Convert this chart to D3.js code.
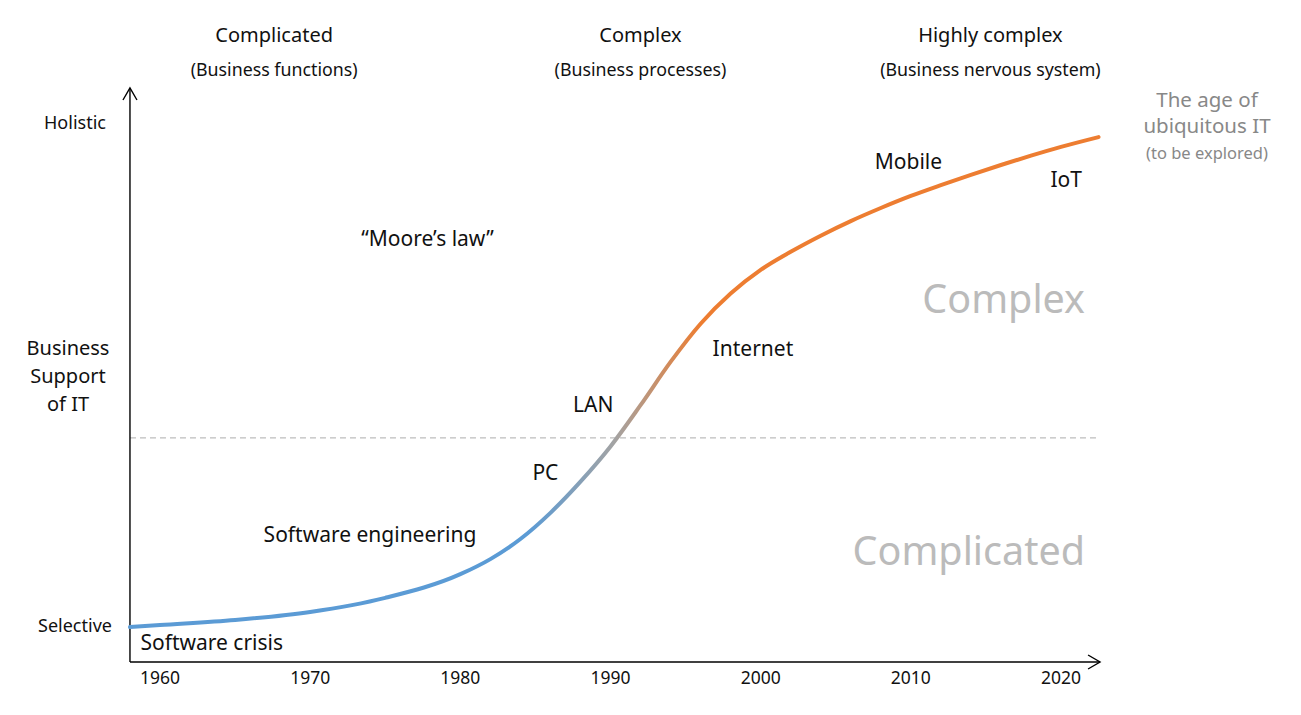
<!DOCTYPE html>
<html><head><meta charset="utf-8">
<script src="https://cdn.jsdelivr.net/npm/d3@7"></script>
<style>
html,body{margin:0;padding:0;background:#fff;}
svg text{font-family:"Noto Sans","DejaVu Sans",sans-serif;}
</style></head>
<body><svg id="c" width="1301" height="715"></svg>
<script>
// ---- data ----
const years  = [1958,1960,1965,1970,1975,1980,1982,1984,1986,1988,1990,1992,1994,1996,1998,2000,2002,2004,2006,2008,2010,2012,2014,2016,2018,2020,2022.5];
const values = [-0.2,0.2,1.2,2.8,5.6,10.3,13.3,17.3,22.5,28.7,35.7,43.9,52.5,60.1,66.1,70.8,74.4,77.6,80.5,83.1,85.5,87.65,89.7,91.65,93.5,95.25,97.2];
const tickYears = [1960,1970,1980,1990,2000,2010,2020];
const yTickLabels = ["Selective","Holistic"];
const yTickValues = [0,100];
const thresholdValue = 37.4;
const eraTitles = ["Complicated","Complex","Highly complex"];
const eraSubtitles = ["(Business functions)","(Business processes)","(Business nervous system)"];
const eraYears = [1967.6,1992,2015.3];
const milestoneLabels = ["Software crisis","Software engineering","PC","LAN","Internet","Mobile","IoT","\u201cMoore\u2019s law\u201d"];
const milestoneYears  = [1958.7,1966.9,1984.8,1987.5,1996.8,2007.6,2019.3,1973.4];
const milestoneValues = [-3.4,18,30.4,43.9,55,92.3,88.7,77];

// ---- scales ----
const x = d3.scaleLinear().domain([1960,2020]).range([160,1061]);
const y = d3.scaleLinear().domain([0,100]).range([626,123]);
const svg = d3.select("#c");
const x0 = x(1958), x1 = x(2022.6), yBase = 662, yTop = 88;

// gradient
const defs = svg.append("defs");
const g = defs.append("linearGradient").attr("id","grad").attr("gradientUnits","userSpaceOnUse")
  .attr("x1",x(1984.5)).attr("x2",x(1996)).attr("y1",0).attr("y2",0);
g.append("stop").attr("offset","0%").attr("stop-color","#5b9bd5");
g.append("stop").attr("offset","50%").attr("stop-color","#a3a3a3");
g.append("stop").attr("offset","100%").attr("stop-color","#ed7d31");

// threshold dashed line
svg.append("line").attr("x1",x0).attr("x2",x1).attr("y1",y(thresholdValue)).attr("y2",y(thresholdValue))
  .attr("stroke","#bdbdbd").attr("stroke-width",1.2).attr("stroke-dasharray","6,4");

// axes
const ax = svg.append("g").attr("stroke","#000").attr("stroke-width",1.4).attr("fill","none");
ax.append("line").attr("x1",x0).attr("x2",x0).attr("y1",yBase).attr("y2",yTop);
ax.append("path").attr("d",`M${x0-7},${yTop+12}L${x0},${yTop}L${x0+7},${yTop+12}`);
ax.append("line").attr("x1",x0).attr("x2",x1).attr("y1",yBase).attr("y2",yBase);
ax.append("path").attr("d",`M${x1-12},${yBase-7}L${x1},${yBase}L${x1-12},${yBase+7}`);

// x tick labels
svg.append("g").selectAll("text").data(tickYears).join("text")
  .attr("x",d=>x(d)).attr("y",684).attr("text-anchor","middle").attr("font-size",17.5).attr("fill","#111").text(d=>d);

// y tick labels
svg.append("g").selectAll("text").data(yTickValues).join("text")
  .attr("x",75).attr("y",d=>y(d)+6).attr("text-anchor","middle").attr("font-size",18).attr("fill","#111")
  .text((d,i)=>yTickLabels[i]);

// y axis title
const yt = svg.append("text").attr("text-anchor","middle").attr("font-size",20).attr("fill","#111");
["Business","Support","of IT"].forEach((t,i)=>yt.append("tspan").attr("x",68).attr("y",355+i*28).text(t));

// era headings
svg.append("g").selectAll("text").data(eraTitles).join("text")
  .attr("x",(d,i)=>x(eraYears[i])).attr("y",42).attr("text-anchor","middle").attr("font-size",20).attr("fill","#111").text(d=>d);
svg.append("g").selectAll("text").data(eraSubtitles).join("text")
  .attr("x",(d,i)=>x(eraYears[i])).attr("y",76).attr("text-anchor","middle").attr("font-size",17.8).attr("fill","#111").text(d=>d);

// curve
const line = d3.line().x(d=>x(d[0])).y(d=>y(d[1])).curve(d3.curveMonotoneX);
svg.append("path").datum(years.map((d,i)=>[d,values[i]])).attr("d",line)
  .attr("fill","none").attr("stroke","url(#grad)").attr("stroke-width",4).attr("stroke-linecap","round");

// milestone labels
svg.append("g").selectAll("text").data(milestoneLabels).join("text")
  .attr("x",(d,i)=>x(milestoneYears[i])).attr("y",(d,i)=>y(milestoneValues[i])+7)
  .attr("font-size",21).attr("fill","#111").text(d=>d);

// zone labels
svg.append("text").attr("x",1085).attr("y",y(65)+14).attr("text-anchor","end").attr("font-size",39.5).attr("fill","#bbbbbb").text("Complex");
svg.append("text").attr("x",1085).attr("y",y(15)+14).attr("text-anchor","end").attr("font-size",39.5).attr("fill","#bbbbbb").text("Complicated");

// future note
const fn = svg.append("text").attr("text-anchor","middle").attr("fill","#888");
fn.append("tspan").attr("x",1207).attr("y",107).attr("font-size",20.5).text("The age of");
fn.append("tspan").attr("x",1207).attr("y",133).attr("font-size",20.5).text("ubiquitous IT");
fn.append("tspan").attr("x",1207).attr("y",159).attr("font-size",16.5).text("(to be explored)");
</script></body></html>
